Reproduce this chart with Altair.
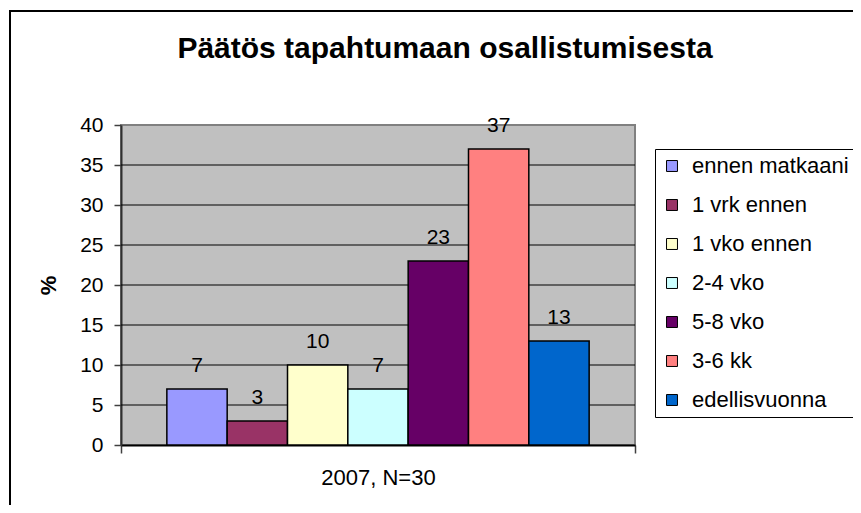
import altair as alt
import pandas as pd

categories = ["ennen matkaani", "1 vrk ennen", "1 vko ennen", "2-4 vko", "5-8 vko", "3-6 kk", "edellisvuonna"]
values = [7, 3, 10, 7, 23, 37, 13]
colors = ["#9999FF", "#993366", "#FFFFCC", "#CCFFFF", "#660066", "#FF8080", "#0066CC"]
group_label = "2007, N=30"
y_ticks = [0, 5, 10, 15, 20, 25, 30, 35, 40]
grid_values = [5, 10, 15, 20, 25, 30, 35]

FONT = "Liberation Sans"

df = pd.DataFrame({"ryhmä": [group_label] * len(categories), "luokka": categories, "arvo": values})
grid_df = pd.DataFrame({"g": grid_values})

W, H = 514, 320

x_axis = alt.Axis(title=None, labelAngle=0, labelFontSize=22, labelFont=FONT, labelColor="black",
                  tickBand="extent", tickSize=8, tickColor="#404040", tickWidth=1.5,
                  labelPadding=14, domainColor="black", domainWidth=2)
x_enc = alt.X("ryhmä:N", scale=alt.Scale(paddingInner=0, paddingOuter=0), axis=x_axis)
xo_enc = alt.XOffset("luokka:N", sort=categories, scale=alt.Scale(paddingInner=0, paddingOuter=0.76))
y_scale = alt.Scale(domain=[0, 40], nice=False)
y_axis = alt.Axis(values=y_ticks, grid=False, title="%", titleFont=FONT, titleFontSize=22,
                  titleFontWeight="bold", titleColor="black", titleX=-73, titleY=H / 2,
                  titleAngle=270, titleBaseline="middle", titleAlign="center",
                  labelFont=FONT, labelFontSize=21, labelColor="black", labelPadding=11,
                  labelOverlap=False, labelFlush=False,
                  tickSize=7, tickColor="#404040", tickWidth=1.5,
                  domainColor="#303030", domainWidth=2)

frame = alt.Chart(pd.DataFrame({"a": [0]})).mark_rect(fillOpacity=0, stroke="black", strokeWidth=2).encode(
    x=alt.value(-111), x2=alt.value(900), y=alt.value(-114), y2=alt.value(700))

grid = alt.Chart(grid_df).mark_rule(color="black", strokeWidth=1).encode(
    y=alt.Y("g:Q", scale=y_scale, axis=y_axis))

bars = alt.Chart(df).mark_bar(stroke="black", strokeWidth=1.5).encode(
    x=x_enc,
    xOffset=xo_enc,
    y=alt.Y("arvo:Q", scale=y_scale, axis=y_axis),
    color=alt.Color("luokka:N", sort=categories, scale=alt.Scale(domain=categories, range=colors),
                    legend=alt.Legend(title=None, orient="none", legendX=534, legendY=24,
                                      symbolType="square", symbolSize=120, symbolStrokeColor="black",
                                      symbolStrokeWidth=1, labelFont=FONT, labelFontSize=22,
                                      labelLimit=400,
                                      labelColor="black", labelOffset=9, rowPadding=17,
                                      padding=6, strokeColor="black", fillColor="white")),
)

labels = alt.Chart(df).mark_text(baseline="alphabetic", dy=-17, font=FONT, fontSize=21, color="black").encode(
    x=alt.X("ryhmä:N", axis=x_axis),
    xOffset=alt.XOffset("luokka:N", sort=categories),
    y=alt.Y("arvo:Q", scale=y_scale, axis=y_axis),
    text=alt.Text("arvo:Q"),
)

chart = alt.layer(frame, grid, bars, labels).properties(
    width=W, height=H,
    title=alt.TitleParams("Päätös tapahtumaan osallistumisesta", font=FONT, fontSize=30, fontWeight="bold",
                          color="black", anchor="middle", dx=67, offset=-78, baseline="alphabetic"),
    autosize=alt.AutoSizeParams(type="none"),
    padding={"left": 113, "top": 117, "right": 218, "bottom": 60},
).configure(background="white").configure_view(fill="#C0C0C0", stroke="#808080", strokeWidth=2)

chart.save("out.html", embed_options={"renderer": "svg", "actions": False})
